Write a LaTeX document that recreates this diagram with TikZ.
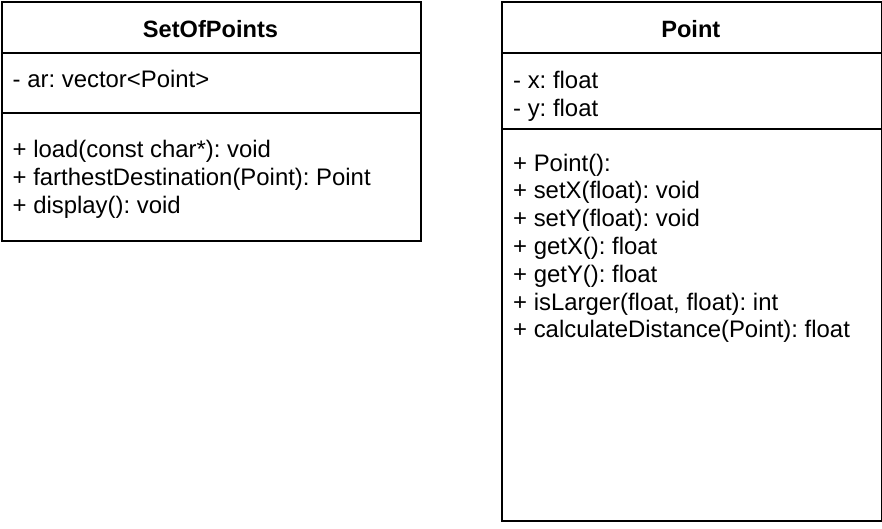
\documentclass[tikz,border=0pt]{standalone}
\usepackage{fontspec}
\setmainfont{Liberation Sans}
\begin{document}
\frenchspacing
\begin{tikzpicture}[x=1pt,y=-1pt,
  classbox/.style={draw=black,line width=2pt,inner sep=0pt,anchor=north west},
  divider/.style={draw=black,line width=2pt},
  title/.style={font=\fontsize{23.6}{28}\selectfont\bfseries,anchor=base,inner sep=0pt},
  member/.style={font=\fontsize{23.9}{28}\selectfont,anchor=base west,inner sep=0pt}]
\useasboundingbox[fill=white] (0,0) rectangle (882,528);
% SetOfPoints
\node[classbox,minimum width=419pt,minimum height=239pt] (sop) at (1,1) {};
\draw[divider] (sop.west |- 0,52.7) -- (sop.east |- 0,52.7);
\draw[divider] (sop.west |- 0,112.7) -- (sop.east |- 0,112.7);
\node[title] (soptitle) at (210.5,37.5) {SetOfPoints};
\node[member] (ar) at (12.5,87.7) {- ar: vector<Point>};
\node[member] (load) at (12.5,157.5) {+ load(const char*): void};
\node[member] (far) at (12.5,185.3) {+ farthestDestination(Point): Point};
\node[member] (disp) at (12.5,213.2) {+ display(): void};
% Point
\node[classbox,minimum width=379.7pt,minimum height=519pt] (pt) at (501,1) {};
\draw[divider] (pt.west |- 0,52.7) -- (pt.east |- 0,52.7);
\draw[divider] (pt.west |- 0,128.7) -- (pt.east |- 0,128.7);
\node[title] (pttitle) at (690.8,37.5) {Point};
\node[member] (px) at (513,88.2) {- x: float};
\node[member] (py) at (513,116) {- y: float};
\node[member] (m1) at (513,171) {+ Point():};
\node[member] (m2) at (513,198.8) {+ setX(float): void};
\node[member] (m3) at (513,226.6) {+ setY(float): void};
\node[member] (m4) at (513,254.4) {+ getX(): float};
\node[member] (m5) at (513,282.2) {+ getY(): float};
\node[member] (m6) at (513,310) {+ isLarger(float, float): int};
\node[member] (m7) at (513,337.8) {+ calculateDistance(Point): float};
\end{tikzpicture}
\end{document}
